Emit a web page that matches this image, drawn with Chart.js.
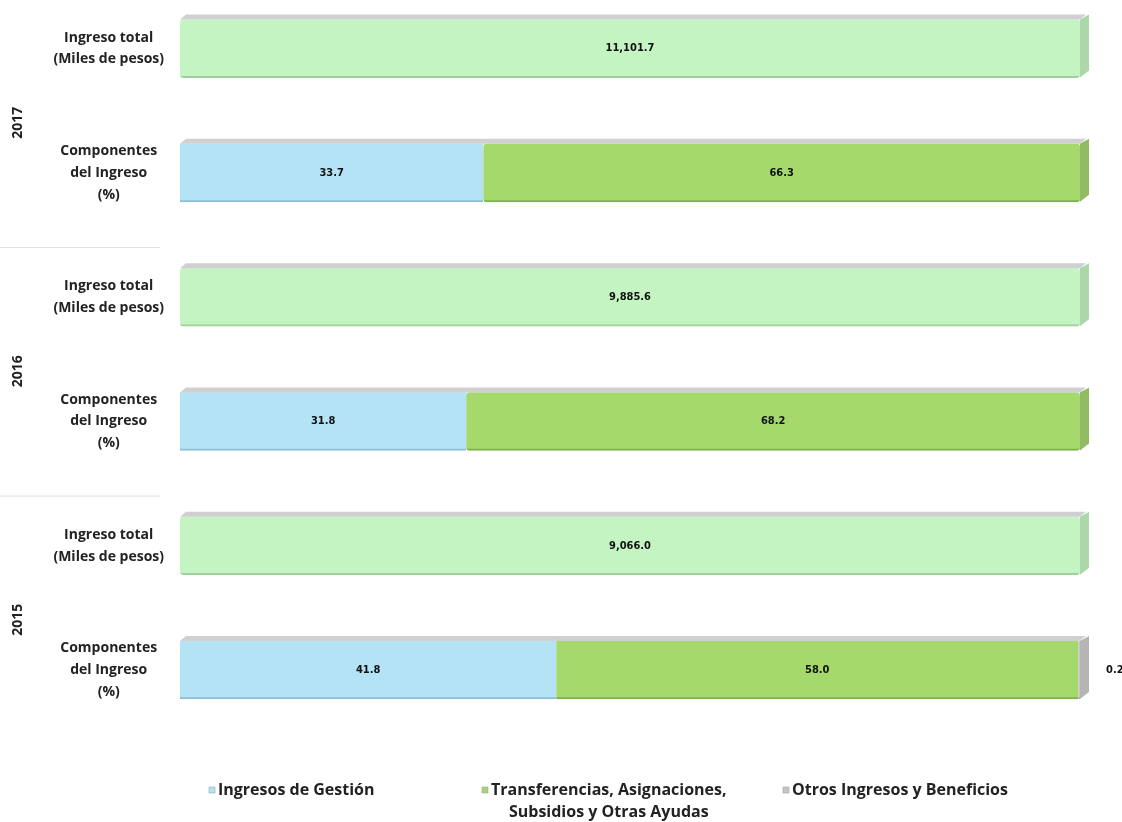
<!DOCTYPE html>
<html>
<head>
<meta charset="utf-8">
<title>Ingresos</title>
<script src="https://cdn.jsdelivr.net/npm/chart.js"></script>
<style>
body{margin:0;background:#fff;}
canvas{display:block;}
</style>
</head>
<body>
<canvas id="chart" width="1122" height="822"></canvas>
<script>

// -------- DATA --------
const years = ["2017", "2016", "2015"];
const rowLabels = [["Ingreso total", "(Miles de pesos)"], ["Componentes", "del Ingreso", "(%)"]];
const ingresoTotal = [11101.7, 9885.6, 9066.0];      // miles de pesos
const gestion = [33.7, 31.8, 41.8];                  // %
const transferencias = [66.3, 68.2, 58.0];           // %
const otros = [0.0, 0.0, 0.2];                       // %
const legendNames = ["Ingresos de Gestión", ["Transferencias, Asignaciones,", "Subsidios y Otras Ayudas"], "Otros Ingresos y Beneficios"];

const colors = {
    total: '#c3f4c1',
    gestion: '#b4e3f6',
    transf: '#a5d96b',
    otros: '#c6c6c6'
};

// two rows per year: total bar, then the components bar
const labels = [];
years.forEach(() => { labels.push(rowLabels[0]); labels.push(rowLabels[1]); });

function perRow(arr, onTotal) {
    const out = [];
    arr.forEach(v => { if (onTotal) { out.push(v); out.push(null); } else { out.push(null); out.push(v); } });
    return out;
}

const fmt = v => v.toLocaleString('en-US', { minimumFractionDigits: 1, maximumFractionDigits: 1 });

// the total bar always fills the row (100% of itself)
const totalShare = ingresoTotal.map(() => 100);

const datasets = [
    {
        label: 'Ingreso total',
        data: perRow(totalShare, true),
        texts: perRow(ingresoTotal.map(fmt), true),
        backgroundColor: colors.total, borderColor: '#9fcf9c'
    },
    {
        label: legendNames[0],
        data: perRow(gestion, false),
        texts: perRow(gestion.map(fmt), false),
        backgroundColor: colors.gestion, borderColor: '#8fbfd3'
    },
    {
        label: legendNames[1],
        data: perRow(transferencias, false),
        texts: perRow(transferencias.map(fmt), false),
        backgroundColor: colors.transf, borderColor: '#7fb049'
    },
    {
        label: legendNames[2],
        data: perRow(otros, false),
        texts: perRow(otros.map(fmt), false),
        backgroundColor: colors.otros, borderColor: '#a8a8a8'
    }
];
datasets.forEach(d => {
    d.barThickness = 58;
    d.borderWidth = { top: 0, left: 0, right: 0, bottom: 2 };
    d.borderRadius = 3;
    d.borderSkipped = false;
    d.clip = false;
});

const BAR_FONT = 'bold 11px "Liberation Sans Narrow", "Arial Narrow", "DejaVu Sans Condensed", sans-serif';
const TXT_FONT = '"Open Sans", "Lato", sans-serif';

// -------- PLUGINS --------
const depthPlugin = {
    id: 'depth',
    afterDatasetsDraw(chart) {
        const ctx = chart.ctx;
        const n = chart.data.labels.length;
        ctx.save();
        for (let j = 0; j < n; j++) {
            // top face on every bar, side face on the last non-empty one
            let last = null;
            chart.data.datasets.forEach((ds, i) => {
                const v = ds.data[j];
                if (v == null || v === 0) return;
                const el = chart.getDatasetMeta(i).data[j];
                const top = el.y - el.height / 2;
                ctx.fillStyle = 'rgba(170,170,170,0.55)';
                ctx.beginPath();
                ctx.moveTo(el.base, top);
                ctx.lineTo(el.base + 6, top - 5);
                ctx.lineTo(el.x + 6, top - 5);
                ctx.lineTo(el.x, top);
                ctx.closePath();
                ctx.fill();
                last = { el, ds };
            });
            if (last) {
                const el = last.el;
                const top = el.y - el.height / 2;
                const bot = el.y + el.height / 2;
                ctx.fillStyle = last.ds.borderColor;
                ctx.globalAlpha = 0.85;
                ctx.beginPath();
                ctx.moveTo(el.x, top);
                ctx.lineTo(el.x + 9, top - 5);
                ctx.lineTo(el.x + 9, bot - 7);
                ctx.lineTo(el.x, bot);
                ctx.closePath();
                ctx.fill();
                ctx.globalAlpha = 1;
            }
        }
        ctx.restore();
    }
};

const valuePlugin = {
    id: 'values',
    afterDraw(chart) {
        const ctx = chart.ctx;
        ctx.save();
        ctx.font = BAR_FONT;
        ctx.fillStyle = '#111';
        ctx.textBaseline = 'middle';
        chart.data.datasets.forEach((ds, i) => {
            chart.getDatasetMeta(i).data.forEach((el, j) => {
                const v = ds.data[j];
                if (v == null || v === 0) return;
                if (Math.abs(el.x - el.base) < 20) {
                    ctx.textAlign = 'left';
                    ctx.fillText(ds.texts[j], el.x + 26, el.y);
                } else {
                    ctx.textAlign = 'center';
                    ctx.fillText(ds.texts[j], (el.x + el.base) / 2, el.y);
                }
            });
        });
        ctx.restore();
    }
};

const yearPlugin = {
    id: 'years',
    afterDraw(chart) {
        const ctx = chart.ctx;
        const y = chart.scales.y;
        ctx.save();
        ctx.font = 'bold 14px ' + TXT_FONT;
        ctx.fillStyle = '#222';
        ctx.textAlign = 'center';
        ctx.textBaseline = 'middle';
        years.forEach((yr, k) => {
            const mid = (y.getPixelForValue(2 * k) + y.getPixelForValue(2 * k + 1)) / 2 + 12;
            ctx.save();
            ctx.translate(18, mid);
            ctx.rotate(-Math.PI / 2);
            ctx.fillText(yr, 0, 0);
            ctx.restore();
            if (k < years.length - 1) {
                const sep = (y.getPixelForValue(2 * k + 1) + y.getPixelForValue(2 * k + 2)) / 2 + 12;
                ctx.strokeStyle = '#e2e2e2';
                ctx.lineWidth = 1;
                ctx.beginPath();
                ctx.moveTo(0, sep + 0.5);
                ctx.lineTo(160, sep + 0.5);
                ctx.stroke();
            }
        });
        ctx.restore();
    }
};

const legendPlugin = {
    id: 'bottomLegend',
    afterDraw(chart) {
        const ctx = chart.ctx;
        const xs = [218, 491, 792];
        const ly = 790;
        ctx.save();
        ctx.font = 'bold 16px ' + TXT_FONT;
        ctx.textBaseline = 'middle';
        datasets.slice(1).forEach((ds, i) => {
            ctx.fillStyle = ds.backgroundColor;
            ctx.fillRect(xs[i] - 9, ly - 3, 6, 6);
            ctx.strokeStyle = '#999';
            ctx.lineWidth = 0.5;
            ctx.strokeRect(xs[i] - 9, ly - 3, 6, 6);
            ctx.fillStyle = '#222';
            const t = legendNames[i];
            if (Array.isArray(t)) {
                ctx.textAlign = 'left';
                ctx.fillText(t[0], xs[i], ly);
                const w = ctx.measureText(t[0]).width;
                ctx.textAlign = 'center';
                ctx.fillText(t[1], xs[i] + w / 2, ly + 22);
            } else {
                ctx.textAlign = 'left';
                ctx.fillText(t, xs[i], ly);
            }
        });
        ctx.restore();
    }
};

// -------- CHART --------
new Chart(document.getElementById('chart'), {
    type: 'bar',
    data: { labels: labels, datasets: datasets },
    plugins: [depthPlugin, valuePlugin, yearPlugin, legendPlugin],
    options: {
        indexAxis: 'y',
        responsive: false,
        animation: false,
        layout: { padding: { top: 47, bottom: 152, left: 0, right: 42 } },
        plugins: {
            legend: { display: false },
            tooltip: { enabled: false }
        },
        scales: {
            x: {
                stacked: true, min: 0, max: 100, display: false
            },
            y: {
                stacked: true,
                offset: false,
                grid: { display: false, drawTicks: false },
                border: { display: false },
                afterFit: s => { s.width = 180; },
                ticks: {
                    crossAlign: 'center',
                    padding: 16,
                    color: '#222',
                    font: { family: TXT_FONT, size: 14, weight: 'bold', lineHeight: 1.55 }
                }
            }
        }
    }
});

</script>
</body>
</html>
